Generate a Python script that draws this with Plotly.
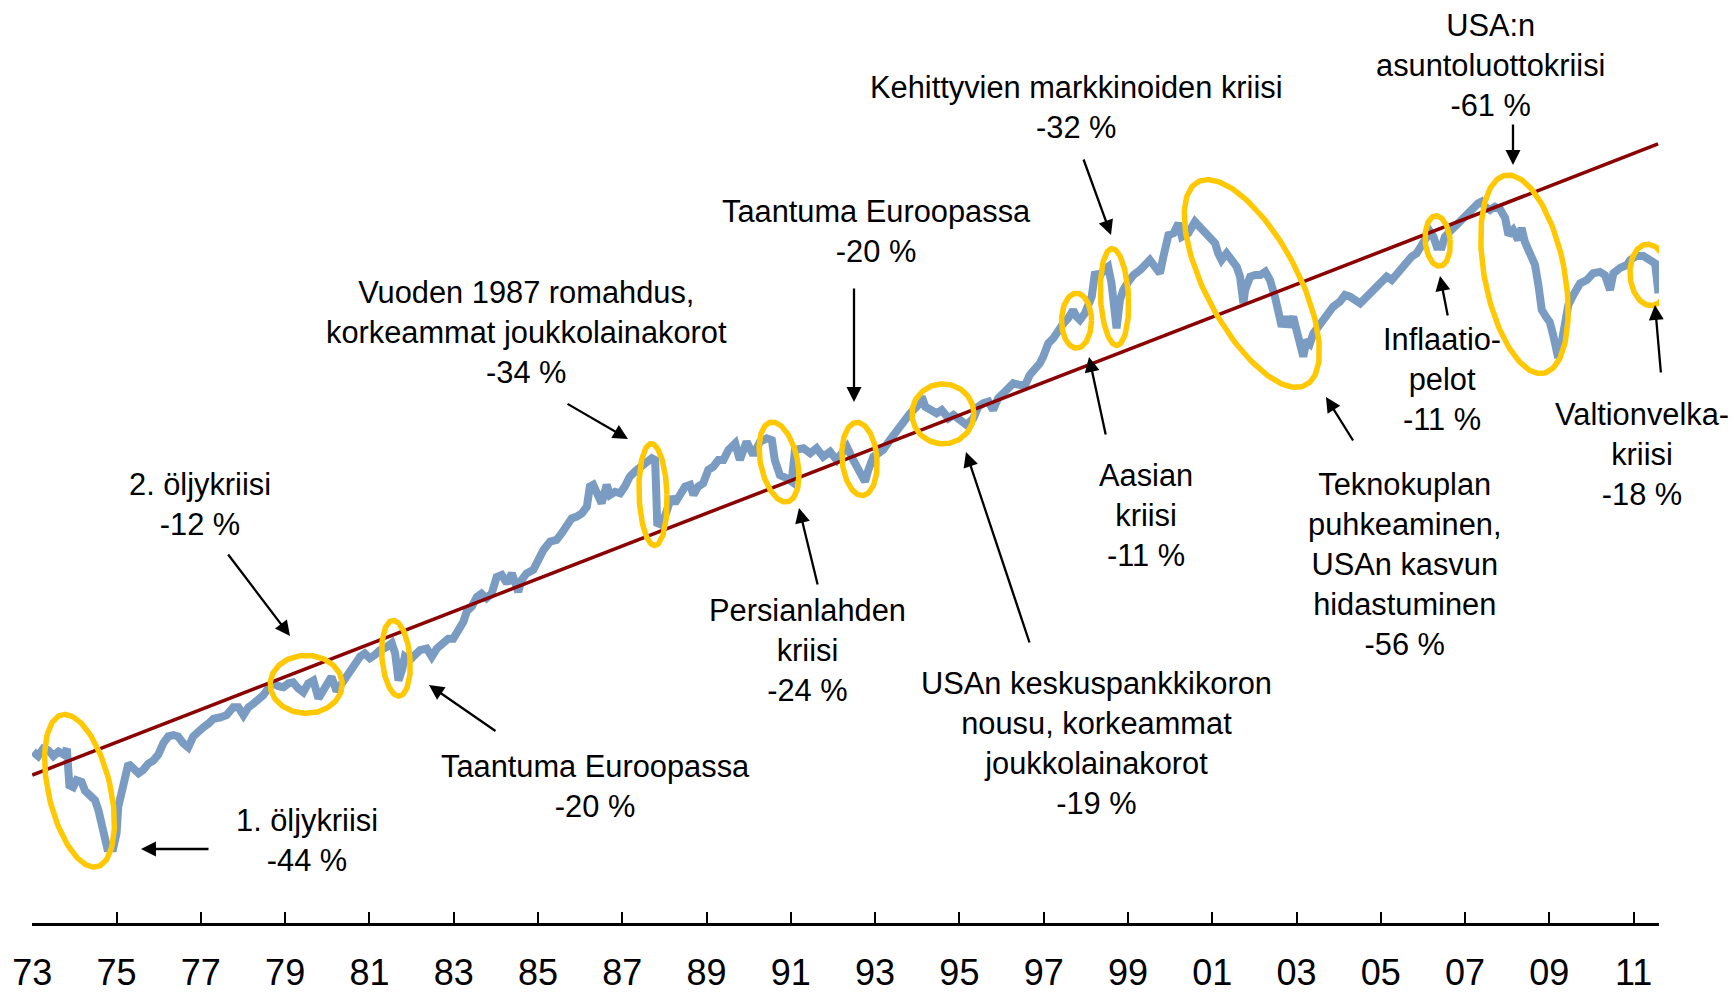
import numpy as np
import plotly.graph_objects as go

# ---------------- data (index level, log scale) ----------------
years = [
    1973.02, 1973.14, 1973.26, 1973.38, 1973.50, 1973.62, 1973.74, 1973.82, 1973.88, 1973.97,
    1974.05, 1974.17, 1974.25, 1974.37, 1974.49, 1974.57, 1974.61, 1974.68, 1974.73, 1974.78,
    1974.92, 1975.00, 1975.04, 1975.12, 1975.20, 1975.28, 1975.40, 1975.52, 1975.63, 1975.75,
    1975.87, 1975.99, 1976.11, 1976.23, 1976.35, 1976.46, 1976.58, 1976.70, 1976.82, 1976.94,
    1977.06, 1977.18, 1977.30, 1977.45, 1977.61, 1977.77, 1977.89, 1978.01, 1978.13, 1978.24,
    1978.36, 1978.48, 1978.60, 1978.72, 1978.84, 1978.96, 1979.08, 1979.19, 1979.31, 1979.43,
    1979.55, 1979.67, 1979.79, 1979.87, 1979.99, 1980.10, 1980.22, 1980.42, 1980.54, 1980.66,
    1980.78, 1980.89, 1981.01, 1981.13, 1981.25, 1981.41, 1981.53, 1981.61, 1981.69, 1981.77,
    1981.84, 1981.96, 1982.08, 1982.20, 1982.36, 1982.48, 1982.60, 1982.75, 1982.87, 1982.99,
    1983.11, 1983.23, 1983.31, 1983.43, 1983.55, 1983.66, 1983.78, 1983.90, 1984.02, 1984.14,
    1984.26, 1984.38, 1984.53, 1984.61, 1984.73, 1984.89, 1985.01, 1985.13, 1985.29, 1985.44,
    1985.56, 1985.68, 1985.80, 1985.92, 1986.04, 1986.16, 1986.23, 1986.31, 1986.43, 1986.51,
    1986.63, 1986.71, 1986.83, 1986.95, 1987.06, 1987.18, 1987.30, 1987.42, 1987.54, 1987.70,
    1987.78, 1987.83, 1987.94, 1988.05, 1988.17, 1988.25, 1988.37, 1988.49, 1988.61, 1988.69,
    1988.80, 1988.92, 1989.04, 1989.16, 1989.28, 1989.40, 1989.52, 1989.68, 1989.79, 1989.95,
    1990.11, 1990.27, 1990.43, 1990.55, 1990.62, 1990.74, 1990.90, 1991.02, 1991.10, 1991.30,
    1991.46, 1991.61, 1991.77, 1991.93, 1992.09, 1992.33, 1992.48, 1992.64, 1992.76, 1992.84,
    1992.96, 1993.08, 1993.19, 1993.35, 1993.51, 1993.67, 1993.83, 1993.99, 1994.11, 1994.19,
    1994.34, 1994.46, 1994.58, 1994.74, 1994.86, 1995.01, 1995.17, 1995.33, 1995.45, 1995.57,
    1995.69, 1995.80, 1995.92, 1996.04, 1996.16, 1996.28, 1996.44, 1996.56, 1996.67, 1996.79,
    1996.91, 1996.99, 1997.11, 1997.23, 1997.35, 1997.47, 1997.58, 1997.70, 1997.78, 1997.86,
    1997.98, 1998.06, 1998.14, 1998.22, 1998.30, 1998.42, 1998.53, 1998.61, 1998.69, 1998.73,
    1998.81, 1998.89, 1999.01, 1999.13, 1999.29, 1999.40, 1999.52, 1999.64, 1999.76, 1999.84,
    1999.96, 2000.08, 2000.20, 2000.28, 2000.43, 2000.59, 2000.71, 2000.83, 2000.95, 2001.07,
    2001.14, 2001.22, 2001.34, 2001.46, 2001.58, 2001.66, 2001.74, 2001.78, 2001.90, 2002.02,
    2002.14, 2002.26, 2002.37, 2002.49, 2002.57, 2002.65, 2002.73, 2002.81, 2002.92, 2003.00,
    2003.08, 2003.16, 2003.24, 2003.32, 2003.40, 2003.52, 2003.64, 2003.75, 2003.87, 2004.03,
    2004.15, 2004.27, 2004.39, 2004.51, 2004.67, 2004.82, 2004.98, 2005.14, 2005.26, 2005.38,
    2005.50, 2005.62, 2005.73, 2005.85, 2005.97, 2006.09, 2006.17, 2006.25, 2006.33, 2006.45,
    2006.52, 2006.60, 2006.72, 2006.84, 2006.96, 2007.08, 2007.20, 2007.31, 2007.39, 2007.47,
    2007.59, 2007.71, 2007.83, 2007.95, 2008.03, 2008.14, 2008.26, 2008.34, 2008.42, 2008.54,
    2008.66, 2008.74, 2008.82, 2008.94, 2009.01, 2009.09, 2009.17, 2009.21, 2009.29, 2009.37,
    2009.45, 2009.57, 2009.73, 2009.89, 2010.04, 2010.20, 2010.32, 2010.44, 2010.52, 2010.68,
    2010.84, 2010.92, 2011.07, 2011.23, 2011.39, 2011.51, 2011.59,
]
index_level = [
    115, 112, 117, 116, 112, 115, 113, 117, 94, 93,
    97, 96, 91, 88, 86, 81, 78, 73, 66.5, 64.5,
    64.5, 70.6, 82.7, 89.6, 101, 107, 104, 101, 103, 107,
    109, 113, 121, 126, 127, 126, 121, 118, 126, 130,
    133, 136, 140, 141, 143, 150, 150, 143, 150, 153,
    157, 161, 168, 173, 170, 169, 173, 174, 168, 164,
    173, 176, 158, 163, 173, 180, 165, 178, 187, 193,
    203, 207, 201, 205, 211, 215, 220, 207, 176, 187,
    203, 199, 205, 211, 213, 203, 213, 222, 226, 226,
    236, 250, 266, 274, 290, 296, 288, 296, 327, 331,
    315, 334, 299, 321, 334, 341, 362, 384, 404, 408,
    424, 441, 464, 469, 478, 498, 561, 567, 534, 508,
    567, 534, 544, 539, 561, 596, 614, 632, 645, 665,
    658, 451, 446, 478, 528, 508, 539, 561, 567, 534,
    561, 572, 620, 632, 658, 658, 699, 727, 658, 734,
    678, 734, 749, 741, 658, 601, 590, 578, 699, 706,
    685, 706, 671, 691, 658, 712, 658, 614, 578, 620,
    671, 685, 699, 741, 787, 827, 870, 905, 961, 905,
    887, 870, 887, 844, 861, 836, 811, 844, 905, 924,
    933, 887, 952, 980, 1020, 1041, 1030, 1030, 1094, 1127,
    1173, 1221, 1322, 1363, 1431, 1490, 1536, 1614, 1550, 1520,
    1582, 1663, 1748, 2029, 1950, 2050, 2091, 1893, 1614, 1446,
    1713, 1818, 1911, 1989, 2050, 2112, 2177, 2091, 2010, 2219,
    2527, 2553, 2710, 2501, 2553, 2736, 2656, 2577, 2501, 2404,
    2265, 2177, 2265, 2154, 2091, 1969, 1680, 1818, 1969, 1989,
    1989, 2029, 1931, 1745, 1557, 1460, 1550, 1460, 1550, 1431,
    1322, 1221, 1349, 1322, 1404, 1460, 1520, 1582, 1646, 1696,
    1765, 1748, 1713, 1680, 1748, 1818, 1893, 1969, 1931, 2010,
    2091, 2177, 2219, 2265, 2381, 2501, 2577, 2501, 2357, 2357,
    2501, 2553, 2630, 2710, 2819, 2905, 2993, 3054, 3084, 2993,
    2935, 2993, 2952, 2799, 2527, 2604, 2453, 2635, 2424, 2242,
    2112, 1874, 1614, 1538, 1502, 1390, 1233, 1211, 1325, 1475,
    1663, 1765, 1893, 1931, 2010, 2026, 1989, 1818, 2010, 2075,
    2112, 2177, 2229, 2229, 2177, 2134, 1783,
]
trend_years = [1973.0, 2011.58]
trend_level = [100, 4355]

tick_years = list(range(1973, 2012, 2))
tick_text = ["73", "75", "77", "79", "81", "83", "85", "87", "89", "91",
             "93", "95", "97", "99", "01", "03", "05", "07", "09", "11"]

# crisis highlights: centre (year, index level)
crisis_year = [1974.12, 1979.50, 1981.63, 1987.73, 1990.72, 1992.63, 1994.61,
               1997.78, 1998.68, 2001.94, 2006.35, 2008.41, 2011.37]
crisis_level = [91, 172, 201, 535, 650, 662, 867, 1514, 1744, 1891, 2438, 1998, 1990]
# ellipse sizes in px (rx, ry, rotation deg)
ell_rx = [31, 36, 14, 14, 18.5, 17.5, 31, 15, 14, 46, 12.5, 40, 19.2]
ell_ry = [78, 29, 38, 51, 40.7, 36.7, 30, 27.5, 48.5, 115, 25.3, 100.8, 30.8]
ell_rot = [-13, 0, -5, -2, -12, -5, 0, 0, -3, -28, -5, -11, -5]

labels = [
    "1. öljykriisi<br>-44 %",
    "2. öljykriisi<br>-12 %",
    "Taantuma Euroopassa<br>-20 %",
    "Vuoden 1987 romahdus,<br>korkeammat joukkolainakorot<br>-34 %",
    "Taantuma Euroopassa<br>-20 %",
    "Persianlahden<br>kriisi<br>-24 %",
    "USAn keskuspankkikoron<br>nousu, korkeammat<br>joukkolainakorot<br>-19 %",
    "Aasian<br>kriisi<br>-11 %",
    "Kehittyvien markkinoiden kriisi<br>-32 %",
    "Teknokuplan<br>puhkeaminen,<br>USAn kasvun<br>hidastuminen<br>-56 %",
    "Inflaatio-<br>pelot<br>-11 %",
    "USA:n<br>asuntoluottokriisi<br>-61 %",
    "Valtionvelka-<br>kriisi<br>-18 %",
]
# label centre positions (px) and arrows (tip px, tail px)
label_pos = [(307, 840), (200, 504), (595, 786), (526, 332), (876, 232), (807, 650),
             (1096, 743), (1146, 515), (1076, 108), (1404, 564), (1442, 379),
             (1490, 65), (1642, 454)]
arrows = [((141, 849), (210, 849)), ((290, 636), (227, 553)), ((429, 685), (497, 732)),
          ((628, 439), (566, 403)), ((854, 402), (854, 287)), ((799, 508), (818, 586)),
          ((966, 452), (1030, 644)), ((1089, 357), (1106, 436)), ((1111, 235), (1083, 158)),
          ((1326, 397), (1354, 442)), ((1440, 276), (1448, 317)), ((1513, 165), (1513, 123)),
          ((1655, 305), (1661, 374))]

# ---------------- geometry ----------------
W, H = 1733, 992
ML, MR, MT, MB = 32, 74, 0, 69
PW, PH = W - ML - MR, H - MT - MB
X0, X1 = 1972.993, 2011.602
Y0, Y1 = 1.61558, 4.01299


def to_px(yr, lvl):
    return ML + (yr - X0) / (X1 - X0) * PW, MT + (Y1 - np.log10(lvl)) / (Y1 - Y0) * PH


def from_px(X, Y):
    return X0 + (X - ML) / PW * (X1 - X0), 10 ** (Y1 - (Y - MT) / PH * (Y1 - Y0))


def paper(X, Y):
    return (X - ML) / PW, (MT + PH - Y) / PH


FONT = "Liberation Sans, Arial, sans-serif"
fig = go.Figure()
fig.add_trace(go.Scatter(x=years, y=index_level, mode="lines",
                         line=dict(color="#7B9CC2", width=8), hoverinfo="skip"))
fig.add_trace(go.Scatter(x=trend_years, y=trend_level, mode="lines",
                         line=dict(color="#8B0000", width=3.5), hoverinfo="skip"))

t = np.linspace(0, 2 * np.pi, 200)
for yr, lv, rx, ry, rot in zip(crisis_year, crisis_level, ell_rx, ell_ry, ell_rot):
    cx, cy = to_px(yr, lv)
    ph = np.radians(rot)
    dx, dy = rx * np.cos(t), ry * np.sin(t)
    X = cx + dx * np.cos(ph) - dy * np.sin(ph)
    Y = cy + dx * np.sin(ph) + dy * np.cos(ph)
    ex, ey = from_px(X, Y)
    fig.add_trace(go.Scatter(x=ex, y=ey, mode="lines",
                             line=dict(color="#FFC800", width=5.5), hoverinfo="skip"))

annotations = []
for txt, (X, Y) in zip(labels, label_pos):
    px, py = paper(X, Y)
    annotations.append(dict(x=px, y=py, xref="paper", yref="paper", text=txt,
                            showarrow=False, xanchor="center", yanchor="middle",
                            align="center", font=dict(family=FONT, size=30.8, color="black")))
for (tip, tail) in arrows:
    px, py = paper(*tip)
    annotations.append(dict(x=px, y=py, xref="paper", yref="paper", text="",
                            showarrow=True, ax=tail[0] - tip[0], ay=tail[1] - tip[1],
                            arrowhead=2, arrowsize=1.3, arrowwidth=2.3, arrowcolor="black",
                            standoff=0, startstandoff=0))

fig.update_layout(
    width=W, height=H, autosize=False,
    margin=dict(l=ML, r=MR, t=MT, b=MB, pad=0),
    paper_bgcolor="white", plot_bgcolor="white",
    showlegend=False,
    annotations=annotations,
    xaxis=dict(range=[X0, X1], tickvals=tick_years, ticktext=tick_text, automargin=False,
               showgrid=False, zeroline=False, showline=True, linecolor="black",
               linewidth=3, ticks="inside", ticklen=11, tickwidth=2, tickcolor="black",
               tickfont=dict(family=FONT, size=36, color="black"), ticklabelstandoff=16),
    yaxis=dict(type="log", range=[Y0, Y1], visible=False, showgrid=False, automargin=False),
)

fig.write_html("out.html", config={"displayModeBar": False},
               post_script="document.body.style.margin='0px';")
